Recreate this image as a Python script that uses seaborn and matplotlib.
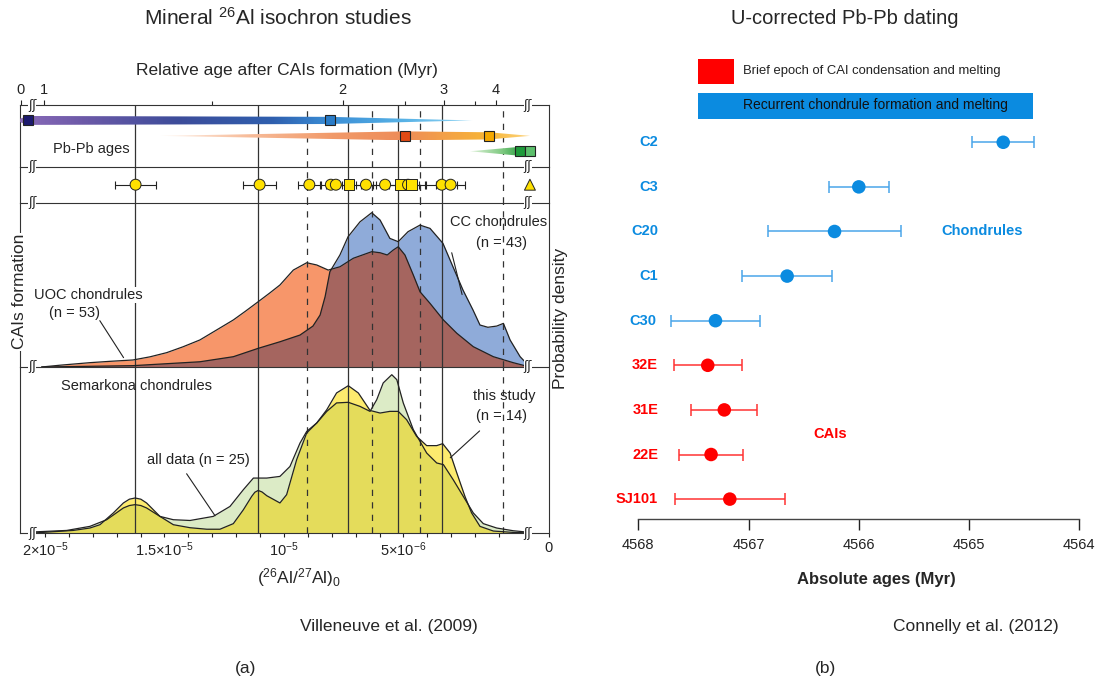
import numpy as np
import pandas as pd
import matplotlib
matplotlib.use("Agg")
import matplotlib.pyplot as plt
import matplotlib.transforms as mtransforms
import seaborn as sns
from matplotlib.colors import LinearSegmentedColormap
from matplotlib.patches import Polygon, Rectangle

# ---------------- panel (a) data: (26Al/27Al)0 in units of 1e-6 ----------------
# Pb-Pb ages placed on the 26Al scale (square markers) and spindle extents
pbpb_row = [1, 1, 2, 2, 3, 3]
pbpb_ratio = [20.71, 8.08, 4.94, 1.42, 0.13, -0.29]
pbpb_color = ["#1c1a6e", "#2a7cc8", "#e04a14", "#f5a800", "#1e9a3a", "#5cbf6c"]

spindle_row = [1, 2, 3]
spindle_left = [21.26, 15.19, 2.22]
spindle_peak = [20.71, 4.94, 0.13]
spindle_shoulder = [8.08, 1.42, 0.13]
spindle_right = [2.13, -0.29, -0.50]
spindle_stops = [
    [(21.26, "#8c6cba"), (18.5, "#6d5aa8"), (14.5, "#3d4c9a"), (10.5, "#2f5fae"),
     (8.08, "#3a8ed6"), (5.0, "#58b2e6"), (2.13, "#93d6f4")],
    [(15.19, "#fff3ea"), (11.5, "#f7bc9a"), (8.0, "#f19a6a"), (4.94, "#ee8c58"),
     (3.0, "#f4a445"), (1.42, "#f7b535"), (-0.29, "#fdd480")],
    [(2.22, "#e0f2da"), (0.9, "#80ca82"), (0.13, "#2fa044"), (-0.50, "#66c274")],
]

# mineral isochron 26Al/27Al values (yellow symbols)
al_ratio = [16.21, 11.02, 8.94, 8.04, 7.83, 7.28, 6.57, 5.77, 5.12, 4.81, 4.66, 3.40, 3.03, -0.29]
al_err = [0.86, 0.69, 0.47, 0.45, 0.40, 0.50, 0.40, 0.50, 0.50, 0.45, 0.55, 0.65, 0.61, 0.0]
al_shape = ["o", "o", "o", "o", "o", "s", "o", "o", "s", "o", "s", "o", "o", "^"]

# reference lines
solid_lines = [16.23, 11.09, 7.32, 5.23, 3.39]
dashed_lines = [9.05, 6.33, 4.31, 0.82]

# probability densities (arbitrary units)
cc_ratio = [20.14, 16.32, 13.52, 12.12, 11.08, 10.17, 9.33, 8.79, 8.49, 8.28, 8.08, 7.66, 7.32,
            6.82, 6.33, 5.98, 5.57, 5.22, 4.81, 4.31, 3.89, 3.35, 2.93, 2.51, 2.09, 1.80, 1.47,
            1.10, 0.82, 0.54, 0.12, -0.29]
cc_density = [0.0, 0.009, 0.035, 0.069, 0.125, 0.169, 0.214, 0.274, 0.348, 0.471, 0.638, 0.750,
              0.872, 0.972, 1.033, 0.984, 0.861, 0.839, 0.906, 0.950, 0.928, 0.828, 0.671, 0.515,
              0.381, 0.281, 0.266, 0.274, 0.292, 0.181, 0.069, 0.0]
uoc_ratio = [20.14, 19.37, 18.12, 17.28, 16.32, 15.61, 14.91, 14.23, 13.52, 12.85, 12.12, 11.60,
             11.08, 10.60, 10.17, 9.61, 9.05, 8.63, 8.15, 7.66, 7.10, 6.33, 5.98, 5.68, 5.43,
             5.22, 4.94, 4.59, 4.31, 3.89, 3.33, 2.77, 2.08, 1.24, 0.41, -0.29]
uoc_density = [0.0, 0.012, 0.029, 0.038, 0.047, 0.068, 0.096, 0.135, 0.181, 0.245, 0.315, 0.375,
               0.437, 0.495, 0.549, 0.649, 0.698, 0.683, 0.649, 0.671, 0.728, 0.772, 0.765,
               0.750, 0.783, 0.805, 0.750, 0.616, 0.504, 0.426, 0.315, 0.226, 0.136, 0.069,
               0.029, 0.0]
study_ratio = [20.49, 19.79, 18.82, 18.12, 17.70, 17.14, 16.72, 16.47, 16.23, 15.99, 15.75, 15.19,
               14.63, 13.93, 13.23, 12.68, 12.12, 11.70, 11.35, 11.22, 11.08, 10.92, 10.72,
               10.17, 9.89, 9.47, 9.05, 8.63, 8.21, 7.80, 7.31, 6.89, 6.40, 5.98, 5.57, 5.22,
               4.87, 4.45, 4.03, 3.61, 3.36, 3.05, 2.77, 2.43, 2.15, 1.80, 1.24, 0.41, -0.29]
study_density = [0.0, 0.007, 0.017, 0.033, 0.055, 0.133, 0.199, 0.224, 0.232, 0.224, 0.199,
                 0.110, 0.055, 0.035, 0.025, 0.025, 0.062, 0.154, 0.243, 0.270, 0.282, 0.272,
                 0.247, 0.199, 0.254, 0.486, 0.663, 0.729, 0.817, 0.928, 0.976, 0.928, 0.812,
                 0.795, 0.806, 0.806, 0.751, 0.640, 0.579, 0.579, 0.592, 0.530, 0.398, 0.243,
                 0.133, 0.044, 0.013, 0.004, 0.0]
all_ratio = [20.49, 19.09, 18.12, 17.42, 16.72, 16.47, 16.23, 15.99, 15.75, 15.19, 14.63, 13.93,
             12.96, 12.26, 11.70, 11.28, 10.72, 10.17, 9.75, 9.33, 9.05, 8.63, 8.21, 7.80, 7.31,
             6.82, 6.40, 6.12, 5.85, 5.49, 5.28, 5.01, 4.59, 4.03, 3.61, 3.33, 2.92, 2.50, 2.08,
             1.66, 1.10, 0.41, -0.29]
all_density = [0.007, 0.017, 0.044, 0.088, 0.166, 0.182, 0.188, 0.182, 0.166, 0.110, 0.088,
               0.083, 0.110, 0.176, 0.287, 0.364, 0.364, 0.375, 0.441, 0.596, 0.673, 0.729,
               0.806, 0.862, 0.866, 0.839, 0.806, 0.883, 0.994, 1.049, 1.016, 0.862, 0.685,
               0.530, 0.464, 0.453, 0.353, 0.243, 0.133, 0.062, 0.033, 0.015, 0.004]

# axis ticks
age_labels = ["0", "1", "2", "3", "4"]
age_tick_ratio = [21.02, 20.04, 7.54, 3.31, 1.13]
age_minor_ratio = [13.0, 4.94, 2.01]
ratio_ticks = [20, 15, 10, 5, -1.07]
ratio_labels = ["2×10$^{-5}$", "1.5×10$^{-5}$", "10$^{-5}$", "5×10$^{-6}$", "0"]
ratio_minor = [r for r in range(1, 20) if r % 5 != 0]

# ---------------- panel (b) data: U-corrected Pb-Pb ages ----------------
obj_labels = ["C2", "C3", "C20", "C1", "C30", "32E", "31E", "22E", "SJ101"]
obj_age = [4564.69, 4566.00, 4566.22, 4566.65, 4567.30, 4567.37, 4567.22, 4567.34, 4567.17]
obj_err = [0.28, 0.27, 0.60, 0.41, 0.40, 0.31, 0.30, 0.29, 0.50]
obj_group = ["Chondrules"] * 5 + ["CAIs"] * 4
age_ticks = [4568, 4567, 4566, 4565, 4564]

sns.set_theme(style="ticks")
plt.rcParams["font.family"] = ["Liberation Sans", "DejaVu Sans"]
plt.rcParams["mathtext.fontset"] = "custom"
plt.rcParams["mathtext.rm"] = "Liberation Sans"
plt.rcParams["mathtext.it"] = "Liberation Sans:italic"
plt.rcParams["mathtext.bf"] = "Liberation Sans:bold"

fig = plt.figure(figsize=(11.01, 6.88), dpi=100)
W, H = 1101, 688
frame = "#333333"


def frac(top, bot, left=20, right=549):
    return [left / W, 1 - bot / H, (right - left) / W, (bot - top) / H]


ax_pb = fig.add_axes(frac(105, 166.7))
ax_pts = fig.add_axes(frac(166.7, 202.7))
ax_up = fig.add_axes(frac(202.7, 367))
ax_lo = fig.add_axes(frac(367, 533))
panel_a = [ax_pb, ax_pts, ax_up, ax_lo]
xlim_a = (21.046, -1.088)

for ax in panel_a:
    ax.set_facecolor("none")
    for side in ["left", "right", "bottom", "top"]:
        ax.spines[side].set_color(frame)
        ax.spines[side].set_linewidth(0.8)
    ax.spines["top"].set_visible(ax is ax_pb)
    ax.tick_params(which="both", length=0, labelbottom=False, labelleft=False)
    for r in solid_lines:
        ax.axvline(r, color=frame, lw=0.9, zorder=2)
    for r in dashed_lines:
        ax.axvline(r, color=frame, lw=0.9, ls=(0, (5, 5)), zorder=2)

# --- Pb-Pb spindles
for row, left, peak, sh, right, stops in zip(spindle_row, spindle_left, spindle_peak,
                                             spindle_shoulder, spindle_right, spindle_stops):
    h = 0.29
    if sh != peak:
        verts = [(left, row), (peak, row - h), (sh, row - 0.8 * h), (right, row),
                 (sh, row + 0.8 * h), (peak, row + h)]
    else:
        verts = [(left, row), (peak, row - h), (right, row), (peak, row + h)]
    poly = Polygon(verts, closed=True, fc="none", ec="none", transform=ax_pb.transData)
    ax_pb.add_patch(poly)
    cmap = LinearSegmentedColormap.from_list(
        "sp", [((left - r) / (left - right), c) for r, c in stops])
    im = ax_pb.imshow(np.linspace(0, 1, 256)[None, :], cmap=cmap, vmin=0, vmax=1,
                      extent=(left, right, row + h, row - h), aspect="auto",
                      interpolation="bilinear", zorder=3)
    im.set_clip_path(poly)

for r, row, c in zip(pbpb_ratio, pbpb_row, pbpb_color):
    ax_pb.plot(r, row, "s", ms=7.2, mfc=c, mec="#222222", mew=0.8, zorder=5)

ax_pb.text(18.08, 2.86, "Pb-Pb ages", ha="center", va="center", fontsize=10.5)
ax_pb.set_ylim(4, 0)
ax_pb.xaxis.tick_top()
ax_pb.set_xticks(age_tick_ratio, labels=age_labels)
ax_pb.set_xticks(age_minor_ratio, minor=True)
ax_pb.tick_params(axis="x", which="major", top=True, labeltop=True, length=3.6, width=0.8,
                  pad=2, labelsize=10.5, colors="#222222")
ax_pb.tick_params(axis="x", which="minor", top=True, length=2.6, width=0.8)

# --- 26Al isochron points
al_df = pd.DataFrame({"ratio": al_ratio, "err": al_err, "shape": al_shape, "row": 0.0})
bars = al_df[al_df["err"] > 0]
ax_pts.errorbar(bars["ratio"], bars["row"], xerr=bars["err"], fmt="none", ecolor="#222222",
                elinewidth=0.8, capsize=2.6, capthick=0.8, zorder=3)
sns.scatterplot(data=al_df, x="ratio", y="row", style="shape",
                markers={"o": "o", "s": "s", "^": "^"}, s=62, color="#ffe100",
                edgecolor="#222222", linewidth=0.7, legend=False, ax=ax_pts, zorder=4)
ax_pts.set_ylim(-1, 1)

# --- densities: CC vs UOC chondrules
cc_fill = ax_up.fill_between(cc_ratio, cc_density, color="#8fabd9", lw=0, zorder=1)
ax_up.fill_between(uoc_ratio, uoc_density, color="#f7966a", lw=0, zorder=1)
both = ax_up.fill_between(uoc_ratio, uoc_density, color="#a5655f", lw=0, zorder=1.1)
both.set_clip_path(cc_fill.get_paths()[0], ax_up.transData)
sns.lineplot(x=cc_ratio, y=cc_density, sort=False, estimator=None, color="#222222", lw=0.9,
             ax=ax_up, zorder=3)
sns.lineplot(x=uoc_ratio, y=uoc_density, sort=False, estimator=None, color="#222222", lw=0.9,
             ax=ax_up, zorder=3)
ax_up.set_ylim(0, 1.1)

# --- densities: Semarkona chondrules
all_fill = ax_lo.fill_between(all_ratio, all_density, color="#dcebc6", lw=0, zorder=1)
ax_lo.fill_between(study_ratio, study_density, color="#fdeb6e", lw=0, zorder=1)
both2 = ax_lo.fill_between(study_ratio, study_density, color="#e4dc5b", lw=0, zorder=1.1)
both2.set_clip_path(all_fill.get_paths()[0], ax_lo.transData)
sns.lineplot(x=all_ratio, y=all_density, sort=False, estimator=None, color="#222222", lw=0.9,
             ax=ax_lo, zorder=3)
sns.lineplot(x=study_ratio, y=study_density, sort=False, estimator=None, color="#222222",
             lw=0.9, ax=ax_lo, zorder=3)
ax_lo.set_ylim(0, 1.1)
ax_lo.set_xticks(ratio_ticks, labels=ratio_labels)
ax_lo.set_xticks(ratio_minor, minor=True)
ax_lo.tick_params(axis="x", which="both", bottom=True, labelbottom=True, direction="out",
                  length=2.6, width=0.8, pad=3, labelsize=10.5, colors="#222222")

for ax in panel_a:
    ax.set_xlim(*xlim_a)
    ax.set_xlabel("")
    ax.set_ylabel("")

# annotations
lbl = dict(fontsize=10.5, ha="center", va="center", color="#222222")
white = dict(fc="white", ec="none", pad=0.5)
ax_up.text(1.03, 0.973, "CC chondrules", zorder=6, **lbl)
ax_up.text(0.89, 0.832, "(n = 43)", zorder=6, **lbl)
ax_up.annotate("", xy=(2.52, 0.467), xytext=(3.01, 0.783),
               arrowprops=dict(arrowstyle="-", color="#222222", lw=0.8), zorder=6)
ax_up.text(18.20, 0.482, "UOC chondrules", bbox=white, zorder=6, **lbl)
ax_up.text(18.76, 0.359, "(n = 53)", bbox=white, zorder=6, **lbl)
ax_up.annotate("", xy=(16.65, 0.047), xytext=(17.77, 0.326),
               arrowprops=dict(arrowstyle="-", color="#222222", lw=0.8), zorder=6)
ax_lo.text(16.16, 0.976, "Semarkona chondrules", zorder=6, **lbl)
ax_lo.text(13.59, 0.486, "all data (n = 25)", zorder=6, **lbl)
ax_lo.annotate("", xy=(12.82, 0.099), xytext=(14.14, 0.408),
               arrowprops=dict(arrowstyle="-", color="#222222", lw=0.8), zorder=6)
ax_lo.text(0.80, 0.905, "this study", zorder=6, **lbl)
ax_lo.text(0.89, 0.773, "(n = 14)", zorder=6, **lbl)
ax_lo.annotate("", xy=(3.13, 0.486), xytext=(1.73, 0.689),
               arrowprops=dict(arrowstyle="-", color="#222222", lw=0.8), zorder=6)

# axis breaks
for ax, ys in [(ax_pb, [0, 1]), (ax_pts, [0]), (ax_up, [0]), (ax_lo, [0])]:
    tr = mtransforms.blended_transform_factory(ax.transData, ax.transAxes)
    for y in ys:
        for xb in [20.54, -0.21]:
            ax.text(xb, y, "ʃʃ", transform=tr, ha="center", va="center", fontsize=9,
                    family="DejaVu Sans", color="#222222", clip_on=False, zorder=7,
                    bbox=dict(fc="white", ec="none", pad=0.05))

fig.text(278 / W, 1 - 18 / H, "Mineral $^{26}$Al isochron studies", ha="center", va="center",
         fontsize=15)
fig.text(287 / W, 1 - 71 / H, "Relative age after CAIs formation (Myr)", ha="center",
         va="center", fontsize=12.5)
fig.text(20 / W, 1 - 291.7 / H, "CAIs formation", rotation=90, ha="center", va="center",
         fontsize=12.5, bbox=dict(fc="white", ec="none", pad=1))
fig.text(560 / W, 1 - 318 / H, "Probability density", rotation=90, ha="center", va="center",
         fontsize=12.5)
fig.text(299 / W, 1 - 578 / H, "($^{26}$Al/$^{27}$Al)$_0$", ha="center", va="center",
         fontsize=12.5)
fig.text(389 / W, 1 - 627 / H, "Villeneuve et al. (2009)", ha="center", va="center",
         fontsize=12.5)
fig.text(246 / W, 1 - 668 / H, "(a)", ha="center", va="center", fontsize=12.5)

# ---------------- panel (b) ----------------
axb = fig.add_axes(frac(26.3, 519, left=638.3, right=1079.3))
axb.set_facecolor("none")
palette = {"Chondrules": "#0b8be0", "CAIs": "#ff0000"}
bar_col = {"Chondrules": "#4aa5ea", "CAIs": "#ff3333"}
df_b = pd.DataFrame({"label": obj_labels, "age": obj_age, "err": obj_err, "group": obj_group,
                     "row": np.arange(len(obj_labels))})
for g, sub in df_b.groupby("group"):
    axb.errorbar(sub["age"], sub["row"], xerr=sub["err"], fmt="none", ecolor=bar_col[g],
                 elinewidth=1.1, capsize=4.3, capthick=1.1, zorder=2)
sns.scatterplot(data=df_b, x="age", y="row", hue="group", palette=palette, s=95, linewidth=0,
                legend=False, ax=axb, zorder=3)
for _, r in df_b.iterrows():
    axb.text(max(r["age"] + r["err"] + 0.14, 4567.82), r["row"], r["label"], ha="right",
             va="center", color=palette[r["group"]], fontsize=10.5, fontweight="bold")
axb.text(4564.88, 2.0, "Chondrules", ha="center", va="center", color=palette["Chondrules"],
         fontsize=10.5, fontweight="bold")
axb.text(4566.26, 6.54, "CAIs", ha="center", va="center", color=palette["CAIs"],
         fontsize=10.5, fontweight="bold")
axb.set_xlim(4568, 4564)
axb.set_ylim(8.446, -2.6)
for side in ["left", "right", "top"]:
    axb.spines[side].set_visible(False)
axb.spines["bottom"].set_color("#444444")
axb.spines["bottom"].set_linewidth(1.0)
axb.set_xticks(age_ticks)
axb.set_yticks([])
axb.tick_params(axis="x", direction="out", length=8, width=1, pad=6, labelsize=10.5,
                colors="#222222")
axb.set_xlabel("")
axb.set_ylabel("")

fig.patches.append(Rectangle((697.7 / W, 1 - 84.3 / H), 36.3 / W, 25 / H, fc="#ff0000",
                             ec="none", transform=fig.transFigure, figure=fig))
fig.patches.append(Rectangle((697.7 / W, 1 - 118.7 / H), 335.6 / W, 26 / H, fc="#0b8be0",
                             ec="none", transform=fig.transFigure, figure=fig))
fig.text(742.7 / W, 1 - 70.7 / H, "Brief epoch of CAI condensation and melting", ha="left",
         va="center", fontsize=9.4, color="#222222")
fig.text(742.7 / W, 1 - 105 / H, "Recurrent chondrule formation and melting", ha="left",
         va="center", fontsize=10, color="#111111")
fig.text(845 / W, 1 - 18 / H, "U-corrected Pb-Pb dating", ha="center", va="center",
         fontsize=14.5)
fig.text(876.7 / W, 1 - 579.3 / H, "Absolute ages (Myr)", ha="center", va="center",
         fontsize=12, fontweight="bold")
fig.text(976 / W, 1 - 627 / H, "Connelly et al. (2012)", ha="center", va="center",
         fontsize=12.5)
fig.text(826 / W, 1 - 668 / H, "(b)", ha="center", va="center", fontsize=12.5)

fig.savefig("out.png", dpi=100)
